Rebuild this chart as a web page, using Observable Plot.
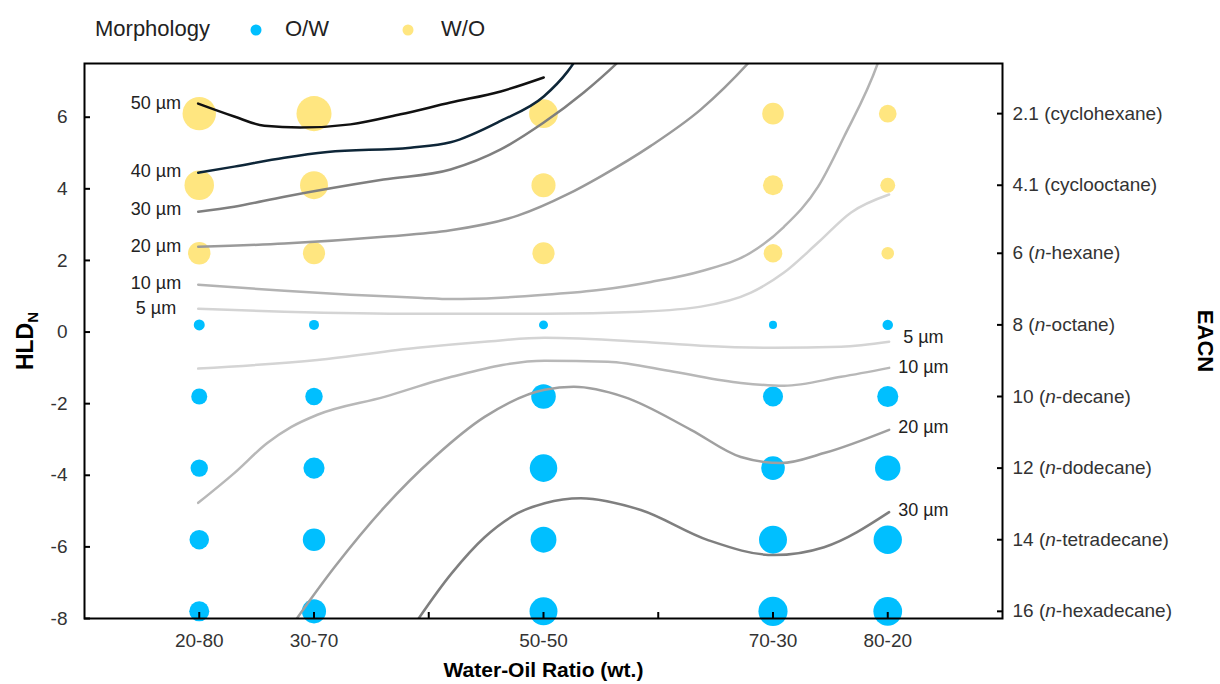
<!DOCTYPE html>
<html><head><meta charset="utf-8">
<script src="https://cdn.jsdelivr.net/npm/d3@7"></script>
<script src="https://cdn.jsdelivr.net/npm/@observablehq/plot@0.6"></script>
<style>body{margin:0;background:#fff;} svg{display:block}</style>
</head><body>
<div id="legend"></div>
<div id="chart"></div>
<script>
// ---------- data ----------
const waterShare = [20, 30, 50, 70, 80];
const ratioLabels = ["20-80", "30-70", "50-50", "70-30", "80-20"];
const xTickValues = [20, 30, 40, 50, 60, 70, 80];
const hldTicks = [6, 4, 2, 0, -2, -4, -6, -8];
const eacnLabels = ["2.1 (cyclohexane)", "4.1 (cyclooctane)", "6 (n-hexane)", "8 (n-octane)",
  "10 (n-decane)", "12 (n-dodecane)", "14 (n-tetradecane)", "16 (n-hexadecane)"];
const hldRows = [6.1, 4.1, 2.2, 0.2, -1.8, -3.8, -5.8, -7.8];
const rowMorphology = ["W/O", "W/O", "W/O", "O/W", "O/W", "O/W", "O/W", "O/W"];
const dropletSizes = [
  [50, 55, 37, 21, 14],
  [39, 35, 26, 18, 10],
  [22.5, 22, 22, 15.5, 7],
  [5.4, 4.5, 3.6, 2.9, 4.9],
  [11.5, 13.6, 27, 18, 20],
  [13.6, 20, 34, 25, 29],
  [17, 22.5, 30, 35, 36],
  [18, 26, 35, 38, 37]
];
const morphologyNames = ["O/W", "W/O"];
const morphologyColors = ["#00bfff", "#ffe680"];

// contour lines (water %, HLDN)
const upper50 = [[19.9,6.38],[23.05,6.02],[25.67,5.76],[28.81,5.71],[33.18,5.80],[37.54,6.08],[41.9,6.41],[46.27,6.72],[50.02,7.11]];
const upper40 = [[19.91,4.45],[23.05,4.62],[27.42,4.87],[31.17,5.03],[38.41,5.15],[41.9,5.3],[46.27,5.9],[50.02,6.58],[52.11,7.28],[53.07,7.72]];
const upper30 = [[19.91,3.36],[23.05,3.5],[27.42,3.78],[36.06,4.26],[41.9,4.54],[46.27,5.1],[50.02,5.85],[53.51,6.69],[56.47,7.53],[57.17,7.75]];
const upper20 = [[19.91,2.38],[27.42,2.47],[36.06,2.66],[41.9,2.84],[47.75,3.25],[52.11,3.85],[55.0,4.35],[59.35,5.2],[63.72,6.22],[67.9,7.53],[68.52,7.75]];
const upper10 = [[19.91,1.32],[27.42,1.15],[33.18,1.04],[39.02,0.96],[41.99,0.92],[46.27,0.96],[50.1,1.04],[54.99,1.18],[59.35,1.40],[63.72,1.70],[68.08,2.22],[70.96,2.94],[73.93,4.06],[76.2,5.46],[79.16,7.53],[79.4,7.75]];
const upper5 = [[19.91,0.65],[27.42,0.57],[39.02,0.51],[50.1,0.51],[58.48,0.57],[63.72,0.71],[68.08,1.1],[70.96,1.66],[73.93,2.5],[76.81,3.34],[80.12,3.84]];
const lower5 = [[19.91,-1.02],[30.3,-0.78],[39.02,-0.44],[44.87,-0.27],[50.1,-0.16],[58.48,-0.27],[63.72,-0.38],[70.09,-0.44],[75.93,-0.41],[80.12,-0.27]];
const lower10 = [[19.91,-4.77],[23.05,-3.94],[25.93,-3.1],[28.03,-2.65],[30.3,-2.31],[36.14,-1.81],[41.99,-1.25],[50.1,-0.8],[55.6,-0.83],[61.36,-1.11],[67.2,-1.42],[70.96,-1.5],[75.93,-1.25],[80.12,-1.0]];
const lower20 = [[27.77,-8.33],[31.78,-6.57],[36.14,-4.89],[40.51,-3.49],[44.87,-2.37],[50.1,-1.61],[52.64,-1.53],[57.0,-1.81],[62.85,-2.73],[67.2,-3.49],[70.7,-3.66],[74.45,-3.38],[80.12,-2.73]];
const lower30 = [[38.41,-8.33],[41.99,-6.74],[44.87,-5.73],[47.75,-5.06],[50.1,-4.78],[53.25,-4.64],[58.48,-4.97],[64.33,-5.81],[70.09,-6.23],[74.45,-6.01],[80.12,-5.03]];

// ---------- build ----------
const dots = [];
hldRows.forEach((h, i) => waterShare.forEach((w, j) =>
  dots.push({water: w, hld: h, morph: rowMorphology[i], size: dropletSizes[i][j]})));

const contours = [
  {label: "50 µm", pts: upper50, side: "start", color: "#111111", dx: -17, dy: 0},
  {label: "40 µm", pts: upper40, side: "start", color: "#0e2638", dx: -17, dy: -1},
  {label: "30 µm", pts: upper30, side: "start", color: "#7f7f7f", dx: -17, dy: -3},
  {label: "20 µm", pts: upper20, side: "start", color: "#9a9a9a", dx: -17, dy: -1},
  {label: "10 µm", pts: upper10, side: "start", color: "#b3b3b3", dx: -17, dy: -2},
  {label: "5 µm", pts: upper5, side: "start", color: "#d4d4d4", dx: -22, dy: -1},
  {label: "5 µm", pts: lower5, side: "end", color: "#d4d4d4", dx: 14, dy: -4},
  {label: "10 µm", pts: lower10, side: "end", color: "#b8b8b8", dx: 9, dy: -1},
  {label: "20 µm", pts: lower20, side: "end", color: "#a0a0a0", dx: 9, dy: -3},
  {label: "30 µm", pts: lower30, side: "end", color: "#7f7f7f", dx: 9, dy: -2}
];

const W = 1220, LEG = 50, H = 684 - LEG;
const mT = 13, mB = 66, mL = 84, mR = 218;
const plotW = W - mL - mR, plotH = H - mT - mB;
const FONT = "'Liberation Sans', Arial, Helvetica, sans-serif";

const marks = [
  Plot.dot(dots, {x: "water", y: "hld", r: "size", fill: "morph"}),
  ...contours.map(c => Plot.line(c.pts, {x: d => d[0], y: d => d[1], stroke: c.color, strokeWidth: 2.5, curve: "monotone-x", clip: true})),
  ...contours.map(c => {
    const p = c.side === "start" ? c.pts[0] : c.pts[c.pts.length - 1];
    return Plot.text([c.label], {x: () => p[0], y: () => p[1], text: d => d, dx: c.dx, dy: c.dy,
      textAnchor: c.side === "start" ? "end" : "start", fontSize: 18, fill: "#222"});
  }),
  Plot.frame({stroke: "black", strokeWidth: 2}),
  Plot.tickX(xTickValues, {x: d => d, insetTop: plotH - 6, stroke: "black", strokeWidth: 2}),
  Plot.tickY(hldTicks, {y: d => d, insetRight: plotW - 6, stroke: "black", strokeWidth: 2}),
  Plot.tickY(hldRows, {y: d => d, insetLeft: plotW - 5, stroke: "black", strokeWidth: 2}),
  Plot.axisX(xTickValues, {tickSize: 0, tickPadding: 15, label: null, fontSize: 19, fill: "#333",
    tickFormat: d => { const k = waterShare.indexOf(d); return k >= 0 ? ratioLabels[k] : ""; }}),
  Plot.axisY(hldTicks, {anchor: "left", tickSize: 0, tickPadding: 17, label: null, fontSize: 19, fill: "#333",
    tickFormat: d => String(d)}),
  Plot.axisY(hldRows, {anchor: "right", tickSize: 0, tickPadding: 10, label: null, fontSize: 19, fill: "#333",
    tickFormat: d => eacnLabels[hldRows.indexOf(d)]}),
  Plot.text(["HLDN"], {frameAnchor: "left", dx: -59, rotate: -90, text: d => d, textAnchor: "middle", lineAnchor: "middle",
    fontWeight: "bold", fontSize: 23, fill: "#000"}),
  Plot.text(["EACN"], {frameAnchor: "right", dx: 203, rotate: 90, text: d => d, textAnchor: "middle", lineAnchor: "middle",
    fontWeight: "bold", fontSize: 22, fill: "#000"}),
  Plot.text(["Water-Oil Ratio (wt.)"], {frameAnchor: "bottom", dy: 52, text: d => d, textAnchor: "middle", lineAnchor: "middle",
    fontWeight: "bold", fontSize: 21, fill: "#000"})
];

const chart = Plot.plot({
  width: W, height: H,
  marginTop: mT, marginBottom: mB, marginLeft: mL, marginRight: mR,
  style: {fontFamily: FONT, fontSize: "19px", background: "#fff"},
  x: {type: "linear", domain: [10, 90], label: null},
  y: {type: "linear", domain: [-8, 7.5], label: null},
  r: {type: "sqrt", domain: [0, 50], range: [0, 16.7]},
  color: {domain: morphologyNames, range: morphologyColors},
  marks
});

// rich text: italic n, subscript N
const NS = "http://www.w3.org/2000/svg";
chart.querySelectorAll("text").forEach(t => {
  const s = t.textContent;
  let m = s.match(/^(.*\()n(-.*)$/);
  if (m) {
    t.textContent = "";
    t.appendChild(document.createTextNode(m[1]));
    const it = document.createElementNS(NS, "tspan");
    it.setAttribute("font-style", "italic");
    it.textContent = "n";
    t.appendChild(it);
    t.appendChild(document.createTextNode(m[2]));
  } else if (s === "HLDN") {
    t.textContent = "HLD";
    const sub = document.createElementNS(NS, "tspan");
    sub.setAttribute("font-size", "15");
    sub.setAttribute("dy", "5");
    sub.textContent = "N";
    t.appendChild(sub);
  }
});
document.getElementById("chart").appendChild(chart);

// legend (above the plot)
const leg = d3.select("#legend").append("svg").attr("width", W).attr("height", LEG)
  .style("font-family", FONT).style("font-size", "22px");
leg.append("text").attr("x", 95).attr("y", 36).attr("fill", "#222").text("Morphology");
const legItems = [{x: 256, tx: 285}, {x: 408, tx: 441}];
morphologyNames.forEach((name, i) => {
  leg.append("circle").attr("cx", legItems[i].x).attr("cy", 30).attr("r", 5.5).attr("fill", morphologyColors[i]);
  leg.append("text").attr("x", legItems[i].tx).attr("y", 36).attr("fill", "#222").text(name);
});
</script>
</body></html>
